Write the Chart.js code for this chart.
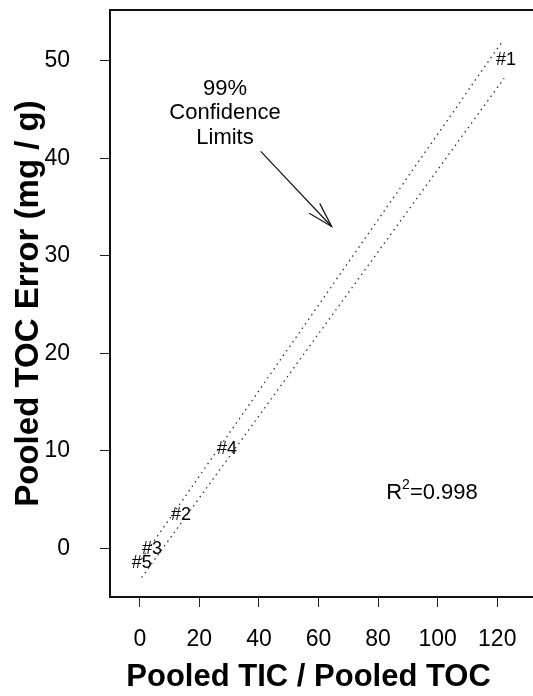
<!DOCTYPE html>
<html><head><meta charset="utf-8">
<script src="https://cdn.jsdelivr.net/npm/chart.js@4/dist/chart.umd.min.js"></script>
<style>html,body{margin:0;padding:0;background:#fff;} canvas{display:block;}</style>
</head><body>
<canvas id="c" width="533" height="696"></canvas>
<script>
// ---- data ----
const sampleLabels = ['#1', '#2', '#3', '#4', '#5'];
const sampleX = [122.9, 13.8, 4.1, 29.3, 0.7];
const sampleY = [50.1, 3.4, -0.1, 10.2, -1.5];
const upperLimitX = [0.6, 121.3];
const upperLimitY = [-1.1, 51.8];
const lowerLimitX = [0.6, 122.3];
const lowerLimitY = [-3.0, 48.2];
const xTicks = [0, 20, 40, 60, 80, 100, 120];
const yTicks = [0, 10, 20, 30, 40, 50];
const xRange = [-10, 132];
const yRange = [-5, 55.2];
const rSquaredText = '0.998';
const noteLines = ['99%', 'Confidence', 'Limits'];
const noteAnchor = [28.6, 44.6];
const arrowFrom = [40.6, 40.7];
const arrowTo = [64.4, 33.0];
const rsqAnchor = [98.1, 5.66];
const xTitle = 'Pooled TIC / Pooled TOC   ';
const yTitle = 'Pooled TOC Error (mg / g)';

const FF = "'Liberation Sans', Arial, Helvetica, sans-serif";

const pts = (xs, ys) => xs.map((x, i) => ({x, y: ys[i]}));

const annot = {
  id: 'annot',
  afterDatasetsDraw(chart) {
    const ctx = chart.ctx, xs = chart.scales.x, ys = chart.scales.y, a = chart.chartArea;
    ctx.save();
    // top frame line
    ctx.strokeStyle = '#111'; ctx.lineWidth = 2;
    ctx.beginPath(); ctx.moveTo(a.left - 1, a.top); ctx.lineTo(a.right, a.top); ctx.stroke();
    ctx.fillStyle = '#000';
    // sample labels
    ctx.font = '18px ' + FF; ctx.textAlign = 'center'; ctx.textBaseline = 'middle';
    sampleLabels.forEach((t, i) => {
      ctx.fillText(t, xs.getPixelForValue(sampleX[i]), ys.getPixelForValue(sampleY[i]));
    });
    // note text
    ctx.font = '22px ' + FF;
    const nx = xs.getPixelForValue(noteAnchor[0]), ny = ys.getPixelForValue(noteAnchor[1]);
    noteLines.forEach((t, i) => ctx.fillText(t, nx, ny + (i - 1) * 24.5));
    // arrow
    const x0 = xs.getPixelForValue(arrowFrom[0]), y0 = ys.getPixelForValue(arrowFrom[1]);
    const x1 = xs.getPixelForValue(arrowTo[0]), y1 = ys.getPixelForValue(arrowTo[1]);
    ctx.strokeStyle = '#111'; ctx.lineWidth = 1.2;
    ctx.beginPath(); ctx.moveTo(x0, y0); ctx.lineTo(x1, y1); ctx.stroke();
    const ang = Math.atan2(y1 - y0, x1 - x0), hl = 26, ha = 0.28;
    ctx.beginPath();
    ctx.moveTo(x1 - hl * Math.cos(ang - ha), y1 - hl * Math.sin(ang - ha));
    ctx.lineTo(x1, y1);
    ctx.lineTo(x1 - hl * Math.cos(ang + ha), y1 - hl * Math.sin(ang + ha));
    ctx.stroke();
    // R^2
    const rx = xs.getPixelForValue(rsqAnchor[0]), ry = ys.getPixelForValue(rsqAnchor[1]);
    ctx.font = '22px ' + FF;
    const wR = ctx.measureText('R').width, wRest = ctx.measureText('=' + rSquaredText).width;
    ctx.font = '14px ' + FF;
    const w2 = ctx.measureText('2').width;
    const total = wR + w2 + wRest;
    let cx = rx - total / 2;
    ctx.textAlign = 'left';
    ctx.font = '22px ' + FF; ctx.fillText('R', cx, ry); cx += wR;
    ctx.font = '14px ' + FF; ctx.fillText('2', cx, ry - 8); cx += w2;
    ctx.font = '22px ' + FF; ctx.fillText('=' + rSquaredText, cx, ry);
    ctx.restore();
  }
};

new Chart(document.getElementById('c'), {
  type: 'scatter',
  data: {
    datasets: [
      {label: 'upper', data: pts(upperLimitX, upperLimitY), showLine: true, borderColor: '#333',
       borderWidth: 1.3, borderDash: [1.5, 4], pointRadius: 0, fill: false},
      {label: 'lower', data: pts(lowerLimitX, lowerLimitY), showLine: true, borderColor: '#333',
       borderWidth: 1.3, borderDash: [1.5, 4], pointRadius: 0, fill: false},
      {label: 'samples', data: pts(sampleX, sampleY), pointRadius: 0, showLine: false}
    ]
  },
  options: {
    responsive: false, animation: false, devicePixelRatio: 1,
    layout: {autoPadding: false, padding: {top: 10, right: 0, bottom: 0, left: 0}},
    plugins: {legend: {display: false}, tooltip: {enabled: false}},
    scales: {
      x: {
        type: 'linear', min: xRange[0], max: xRange[1],
        afterBuildTicks: s => { s.ticks = xTicks.map(v => ({value: v})); },
        afterFit: s => { s.height = 99; s.paddingLeft = 0; s.paddingRight = 0; s.paddingTop = 0; s.paddingBottom = 0; },
        ticks: {color: '#000', font: {family: FF, size: 23}, padding: 19, maxRotation: 0, autoSkip: false},
        grid: {drawOnChartArea: false, drawTicks: true, tickLength: 10, color: '#222', lineWidth: 1},
        border: {display: true, color: '#111', width: 2},
        title: {display: true, text: xTitle, color: '#000', font: {family: FF, size: 31, weight: 'bold'}, padding: {top: 0, bottom: 0}}
      },
      y: {
        type: 'linear', min: yRange[0], max: yRange[1],
        afterBuildTicks: s => { s.ticks = yTicks.map(v => ({value: v})); },
        afterFit: s => { s.width = 110; s.paddingTop = 0; s.paddingBottom = 0; s.paddingLeft = 0; s.paddingRight = 0; },
        ticks: {color: '#000', font: {family: FF, size: 23}, padding: 30, autoSkip: false},
        grid: {drawOnChartArea: false, drawTicks: true, tickLength: 10, color: '#222', lineWidth: 1},
        border: {display: true, color: '#111', width: 2},
        title: {display: true, text: yTitle, color: '#000', font: {family: FF, size: 33, weight: 'bold'}, padding: {top: 9, bottom: 0}}
      }
    }
  },
  plugins: [annot]
});
</script>
</body></html>
